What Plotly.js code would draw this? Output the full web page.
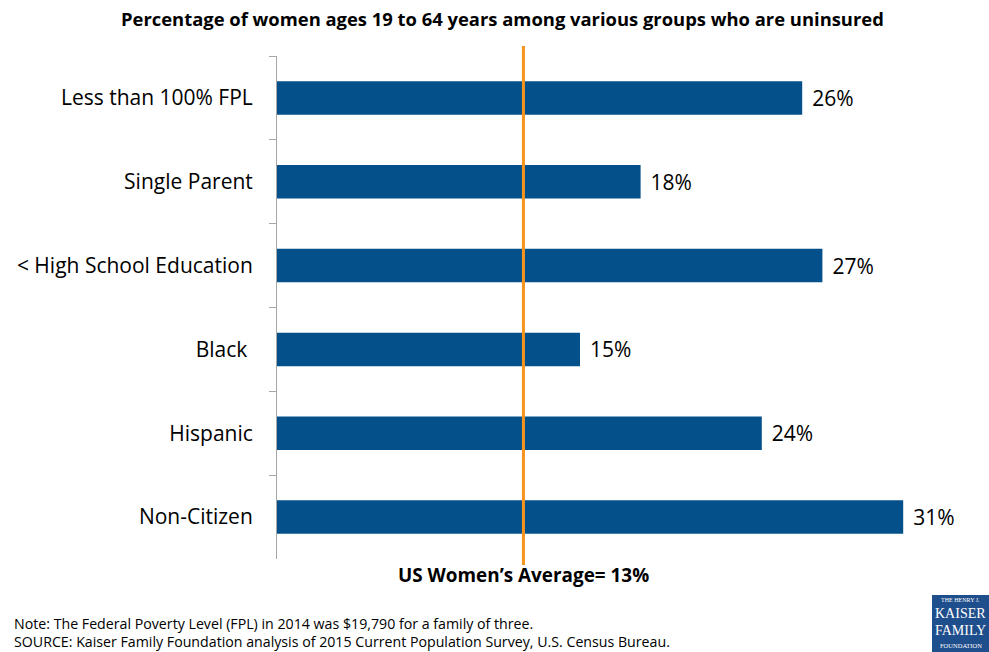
<!DOCTYPE html>
<html><head><meta charset="utf-8">
<script src="https://cdn.plot.ly/plotly-3.0.1.min.js"></script>
<style>html,body{margin:0;padding:0;background:#fff}#chart{width:989px;height:652px}</style>
</head><body><div id="chart"></div>
<script>
const categories = ["Less than 100% FPL", "Single Parent", "< High School Education", "Black ", "Hispanic", "Non-Citizen"];
const values = [26, 18, 27, 15, 24, 31];
const valueLabels = ["26%", "18%", "27%", "15%", "24%", "31%"];
const averageLabel = "US Women\u2019s Average= 13%";
const averageLinePos = 12.2;
const titleText = "Percentage of women ages 19 to 64 years among various groups who are uninsured";
const noteLines = ["Note: The Federal Poverty Level (FPL) in 2014 was $19,790 for a family of three.",
  "SOURCE: Kaiser Family Foundation analysis of 2015 Current Population Survey, U.S. Census Bureau."];

const FONT = "'Open Sans', sans-serif";
const trace = {
  type: "bar", orientation: "h",
  y: categories, x: values,
  text: valueLabels, texttemplate: "\u2009\u2009%{text}", textposition: "outside", cliponaxis: false,
  textfont: {family: FONT, size: 21, color: "#000"},
  marker: {color: "#03508a"},
  hoverinfo: "none"
};
const layout = {
  width: 989, height: 652,
  margin: {l: 277, r: 5, t: 56, b: 93},
  paper_bgcolor: "#fff", plot_bgcolor: "#fff",
  bargap: 0.6,
  showlegend: false,
  title: {text: "<b>" + titleText + "</b>", font: {family: FONT, size: 18.4, color: "#000"}, x: 0.508, xanchor: "center", y: 0.98, yanchor: "top"},
  xaxis: {range: [0, 35], visible: false, fixedrange: true},
  yaxis: {
    autorange: "reversed", type: "category",
    showline: true, linecolor: "#a6a6a6", linewidth: 1,
    ticks: "outside", ticklen: 7, tickcolor: "#a6a6a6", tickson: "boundaries",
    ticklabelstandoff: 19,
    tickfont: {family: FONT, size: 21, color: "#000"},
    showgrid: false, zeroline: false, fixedrange: true
  },
  shapes: [
    {type: "line", xref: "x", yref: "paper", x0: averageLinePos, x1: averageLinePos, y0: -0.012, y1: 1.02,
     line: {color: "#f7941d", width: 3}},
    {type: "rect", xref: "paper", yref: "paper", x0: (932-277)/707, x1: (989-277)/707, y0: -(595-559)/503, y1: -(652-559)/503,
     fillcolor: "#1f4e8c", line: {width: 0}}
  ],
  annotations: [
    {xref: "x", yref: "paper", x: averageLinePos, y: -(575-559)/503, text: "<b>" + averageLabel + "</b>", showarrow: false,
     xanchor: "center", yanchor: "middle", font: {family: FONT, size: 18.9, color: "#000"}},
    {xref: "paper", yref: "paper", x: -(277-12)/707, y: -(632-559)/503, text: noteLines.join("<br>"), showarrow: false,
     xanchor: "left", yanchor: "middle", align: "left", font: {family: FONT, size: 14.2, color: "#000"}},
    {xref: "paper", yref: "paper", x: (960.5-277)/707, y: -(600-559)/503, text: "THE HENRY J.", showarrow: false,
     xanchor: "center", yanchor: "middle", font: {family: "'Liberation Serif', serif", size: 6, color: "#fff"}},
    {xref: "paper", yref: "paper", x: (960.5-277)/707, y: -(613-559)/503, text: "KAISER", showarrow: false,
     xanchor: "center", yanchor: "middle", font: {family: "'Liberation Serif', serif", size: 14, color: "#fff"}},
    {xref: "paper", yref: "paper", x: (960.5-277)/707, y: -(630-559)/503, text: "FAMILY", showarrow: false,
     xanchor: "center", yanchor: "middle", font: {family: "'Liberation Serif', serif", size: 14, color: "#fff"}},
    {xref: "paper", yref: "paper", x: (960.5-277)/707, y: -(645-559)/503, text: "FOUNDATION", showarrow: false,
     xanchor: "center", yanchor: "middle", font: {family: "'Liberation Serif', serif", size: 6.5, color: "#fff"}}
  ]
};
Plotly.newPlot("chart", [trace], layout, {displayModeBar: false, staticPlot: true});
</script></body></html>
